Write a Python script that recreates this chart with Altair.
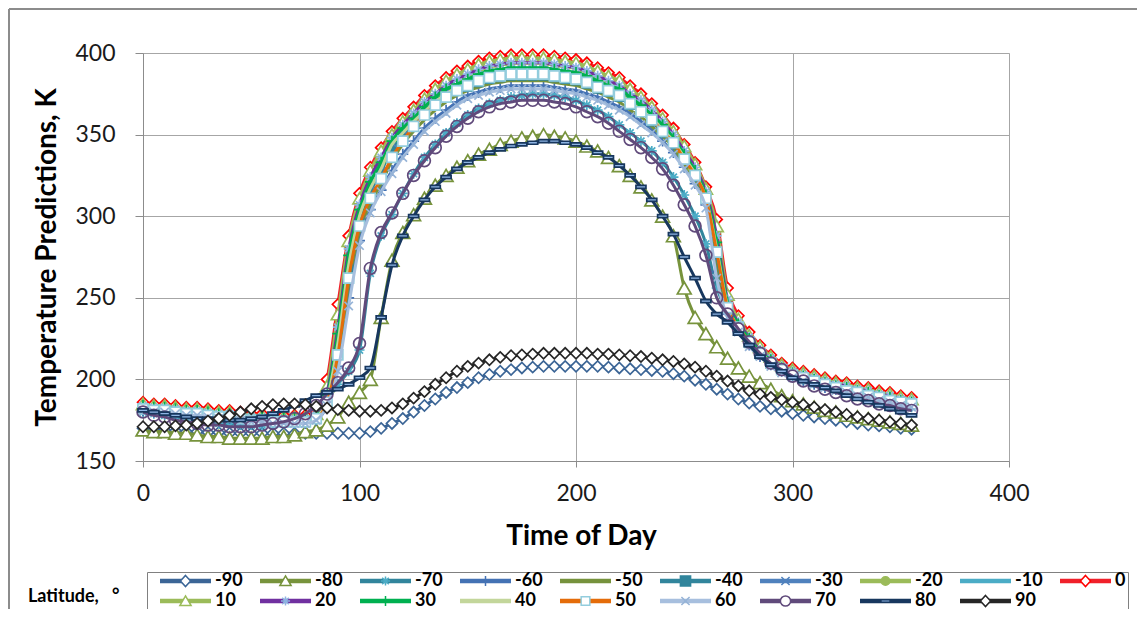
import altair as alt
import pandas as pd

FONT = "Lato"

# Time of day grid (degrees of local time), one value every 5
TIME = list(range(0, 360, 5))

LATS = ["-90", "-80", "-70", "-60", "-50", "-40", "-30", "-20", "-10", "0",
        "10", "20", "30", "40", "50", "60", "70", "80", "90"]

# Temperature predictions (K), one list per latitude
T_M90 = [170, 169.5, 169, 168.5, 168, 168, 167.5, 167.5, 167, 167, 167, 167, 167, 167, 167, 167, 167,
         167, 167, 167, 167, 168, 170,
         173, 176, 180, 184, 188, 192, 195, 198, 201, 203, 205, 206, 207, 207.5, 208, 208, 208, 208, 208, 208,
         207.5, 207, 206.5, 206, 205.5, 205, 203.5, 202, 199.5, 197, 194,
         191, 188, 185.5, 183.5, 182, 180.5, 179, 178, 177, 176, 175, 174, 173, 172, 171.5, 171, 170, 169.5]
T_M80 = [169, 168, 168, 167, 167, 166, 165, 165, 164, 164, 164, 164, 165, 165, 166, 168, 169,
         172, 177, 186, 192, 200, 238,
         273, 290, 301, 311, 319, 325, 330, 334, 338, 341, 344, 346, 348, 349, 350, 349, 348, 346, 343, 340,
         336, 331, 325, 318, 310, 300, 288, 256, 238, 228, 220,
         213, 207, 202, 198, 194, 190, 187, 185, 183, 181, 180, 178, 177, 176, 175, 174, 173, 172]
T_M70 = [180, 179, 178, 177, 176, 175, 174, 173, 173, 172, 172, 172, 172, 173, 174, 176, 179,
         187, 197, 205, 218, 265, 288,
         301, 314, 326, 336, 344, 351, 357, 362, 366, 369, 371, 373, 374, 375, 375, 374, 373, 371, 368, 365,
         361, 356, 351, 346, 340, 333, 324, 313, 300, 283, 256,
         242, 233, 224, 217, 211, 207, 203, 200, 198, 196, 194, 192, 190, 189, 187, 185, 184, 183]
T_M60 = [181, 180, 180, 179, 178, 178, 177, 176, 176, 175, 174, 174, 173, 173, 173, 173, 175,
         184, 208, 250, 285, 304, 316,
         328, 338, 346, 354, 360, 365, 370, 374, 376, 378, 379, 380, 380, 380, 380, 379, 378, 377, 375, 373,
         370, 367, 363, 358, 353, 346, 339, 330, 320, 307, 266,
         240, 230, 221, 214, 209, 205, 202, 199, 197, 195, 194, 192, 191, 189, 188, 186, 185, 184]
T_M50 = [182, 181, 181, 180, 179, 179, 178, 177, 177, 176, 175, 175, 174, 174, 174, 174, 176,
         185, 213, 258, 291, 308, 320,
         334, 344, 352, 359, 365, 370, 374, 377, 379, 381, 382, 383, 383, 383, 383, 382, 381, 380, 378, 376,
         373, 370, 365, 361, 355, 349, 342, 332, 322, 308, 272,
         241, 230, 221, 214, 209, 205, 202, 200, 198, 196, 194, 193, 191, 190, 188, 187, 185, 184]
T_M40 = [183, 182, 182, 181, 180, 180, 179, 178, 178, 177, 176, 176, 175, 175, 175, 175, 177,
         187, 220, 268, 298, 315, 327,
         342, 349, 356, 363, 368, 373, 377, 379, 382, 384, 385, 386, 386, 386, 386, 385, 384, 383, 381, 378,
         376, 373, 368, 364, 358, 351, 344, 335, 324, 310, 276,
         243, 231, 222, 215, 210, 206, 203, 200, 198, 196, 195, 193, 192, 190, 189, 187, 186, 185]
T_M30 = [183, 182, 182, 181, 180, 180, 179, 178, 178, 177, 176, 176, 175, 175, 175, 175, 177,
         189, 226, 274, 302, 319, 331,
         345, 353, 359, 366, 372, 377, 380, 383, 386, 388, 389, 390, 390, 390, 390, 389, 388, 387, 385, 382,
         380, 377, 372, 367, 361, 355, 347, 337, 327, 313, 282,
         246, 233, 224, 217, 211, 207, 204, 201, 199, 197, 196, 194, 193, 191, 190, 188, 187, 186]
T_M20 = [184, 183, 183, 182, 181, 181, 180, 179, 179, 178, 177, 177, 176, 176, 176, 176, 178,
         192, 233, 281, 308, 325, 337,
         349, 357, 364, 370, 376, 381, 385, 388, 391, 393, 394, 395, 395, 395, 395, 394, 393, 392, 390, 387,
         384, 381, 376, 371, 366, 359, 351, 341, 330, 316, 289,
         250, 236, 226, 219, 213, 208, 205, 203, 201, 199, 197, 196, 194, 193, 191, 190, 188, 187]
T_M10 = [185, 184, 184, 183, 182, 182, 181, 180, 180, 179, 178, 178, 177, 177, 177, 177, 179,
         195, 238, 283, 310, 327, 339,
         350, 358, 364, 371, 377, 382, 386, 389, 392, 394, 395, 396, 396, 396, 396, 395, 394, 393, 391, 388,
         385, 382, 377, 372, 366, 360, 352, 342, 331, 316, 292,
         251, 236, 227, 219, 213, 209, 206, 203, 201, 199, 198, 196, 195, 193, 192, 190, 189, 188]
T_0 = [186, 185, 185, 184, 183, 183, 182, 181, 181, 180, 179, 179, 178, 178, 178, 178, 180,
       200, 246, 288, 314, 330, 342,
       352, 360, 367, 374, 380, 385, 389, 392, 395, 397, 398, 399, 399, 399, 399, 398, 397, 396, 394, 391,
       388, 385, 380, 375, 369, 362, 354, 344, 333, 318, 298,
       256, 239, 229, 221, 215, 210, 207, 205, 203, 201, 199, 198, 196, 195, 193, 192, 190, 189]
T_P10 = [185, 184, 184, 183, 182, 182, 181, 180, 180, 179, 178, 178, 177, 177, 177, 177, 179,
         196, 240, 285, 311, 328, 340,
         350, 358, 365, 372, 378, 383, 387, 390, 393, 395, 396, 397, 397, 397, 397, 396, 395, 394, 392, 389,
         386, 383, 378, 373, 367, 360, 352, 343, 332, 317, 294,
         252, 237, 227, 220, 214, 209, 206, 204, 202, 200, 198, 197, 195, 194, 192, 191, 189, 188]
T_P20 = [184, 183, 183, 182, 181, 181, 180, 179, 179, 178, 177, 177, 176, 176, 176, 176, 178,
         192, 232, 280, 307, 324, 336,
         348, 356, 363, 370, 375, 380, 384, 387, 390, 392, 393, 394, 394, 394, 394, 393, 392, 391, 389, 386,
         383, 380, 375, 371, 365, 358, 350, 340, 330, 315, 288,
         249, 235, 226, 218, 213, 208, 205, 203, 201, 199, 197, 196, 194, 193, 191, 190, 188, 187]
T_P30 = [184, 183, 183, 182, 181, 181, 180, 179, 179, 178, 177, 177, 176, 176, 176, 176, 178,
         190, 228, 276, 304, 321, 333,
         346, 354, 360, 367, 373, 378, 381, 384, 387, 389, 390, 391, 391, 391, 391, 390, 389, 388, 386, 383,
         380, 378, 373, 368, 362, 356, 348, 338, 328, 313, 284,
         247, 234, 225, 217, 212, 207, 204, 202, 200, 198, 196, 195, 193, 192, 190, 189, 187, 186]
T_P40 = [183, 182, 182, 181, 180, 180, 179, 178, 178, 177, 176, 176, 175, 175, 175, 175, 177,
         188, 222, 270, 300, 317, 329,
         344, 351, 358, 364, 370, 375, 379, 381, 384, 386, 387, 388, 388, 388, 388, 387, 386, 385, 383, 380,
         378, 375, 370, 365, 360, 353, 346, 336, 326, 311, 280,
         245, 232, 223, 216, 211, 206, 203, 201, 199, 197, 195, 194, 192, 191, 189, 188, 186, 185]
T_P50 = [182, 181, 181, 180, 179, 179, 178, 177, 177, 176, 175, 175, 174, 174, 174, 174, 176,
         186, 215, 262, 294, 311, 323,
         336, 346, 355, 362, 368, 373, 377, 380, 383, 385, 386, 387, 387, 387, 387, 386, 385, 384, 382, 379,
         377, 374, 369, 364, 359, 352, 345, 335, 325, 311, 278,
         244, 232, 223, 216, 210, 206, 203, 201, 199, 197, 195, 193, 192, 190, 189, 187, 186, 185]
T_P60 = [181, 180, 180, 179, 178, 178, 177, 176, 176, 175, 174, 174, 173, 173, 173, 173, 175,
         184, 205, 245, 282, 302, 315,
         326, 336, 344, 352, 358, 363, 368, 372, 374, 376, 377, 378, 378, 378, 378, 377, 376, 375, 373, 371,
         368, 365, 361, 356, 351, 345, 338, 329, 319, 305, 262,
         238, 229, 220, 214, 208, 204, 201, 199, 197, 195, 193, 192, 190, 189, 187, 186, 184, 183]
T_P70 = [180, 178, 177, 175, 174, 173, 172, 172, 171, 171, 171, 172, 173, 174, 176, 179, 184,
         191, 198, 207, 222, 268, 290,
         302, 314, 325, 334, 342, 349, 355, 360, 364, 367, 369, 370, 371, 371, 371, 370, 369, 367, 364, 361,
         357, 352, 347, 342, 336, 329, 319, 307, 294, 276, 250,
         240, 231, 223, 216, 210, 206, 202, 199, 196, 194, 192, 190, 188, 187, 185, 184, 182, 181]
T_P80 = [181, 180, 179, 178, 177, 176, 176, 175, 175, 175, 176, 177, 179, 181, 184, 187, 190,
         192, 194, 197, 201, 207, 238,
         270, 288, 300, 310, 318, 324, 329, 333, 336, 339, 341, 343, 344, 345, 346, 346, 345, 344, 342, 339,
         336, 331, 325, 318, 310, 300, 289, 275, 262, 248, 240,
         235, 228, 221, 214, 209, 205, 201, 199, 197, 195, 193, 190, 188, 186, 184, 182, 180, 178]
T_P90 = [171, 171, 171, 171.5, 172, 173, 174.5, 176, 178, 180, 182, 183.5, 184.5, 185, 185, 184.5, 183.5,
         182.5, 181.5, 181, 180.5, 180.5, 181,
         182.5, 185, 188.5, 192.5, 197, 201, 205, 208, 210, 212, 213.5, 214.5, 215, 215.5, 216, 216, 216, 216,
         216, 215.5, 215.5, 215, 214.5, 214, 213, 212, 211, 209.5, 207.5, 205, 202,
         199, 196, 193, 191, 189, 187.5, 186, 184.5, 183, 181.5, 180, 178.5, 177, 176, 175, 174, 173, 172]

TEMPS = [T_M90, T_M80, T_M70, T_M60, T_M50, T_M40, T_M30, T_M20, T_M10, T_0,
         T_P10, T_P20, T_P30, T_P40, T_P50, T_P60, T_P70, T_P80, T_P90]

# Styles
LINE_COLORS = ["#3B6596", "#77933C", "#31859C", "#4472B4", "#76923C", "#31859C", "#4F81BD", "#9BBB59",
               "#4BACC6", "#F0202A", "#9BBB59", "#7030A0", "#00B050", "#C3D69B", "#E46C0A", "#A7BFDE",
               "#604A7B", "#17375E", "#262626"]

STAR = "M-1,0L1,0M0,-1L0,1M-0.7,-0.7L0.7,0.7M-0.7,0.7L0.7,-0.7"
PLUS = "M-1,0L1,0M0,-1L0,1"
XMARK = "M-0.8,-0.8L0.8,0.8M-0.8,0.8L0.8,-0.8"
DASH = "M-1,-0.3L1,-0.3L1,0.3L-1,0.3Z"

MARK_SHAPES = ["diamond", "triangle-up", STAR, PLUS, None, "square", XMARK, "circle", None, "diamond",
               "triangle-up", STAR, PLUS, None, "square", XMARK, "circle", DASH, "diamond"]
MARK_SIZES = [121, 190, 100, 120, 0, 64, 100, 64, 0, 121, 170, 100, 120, 0, 100, 110, 140, 100, 121]
MARK_STROKES = ["#3B6596", "#77933C", "#4BACC6", "#4472B4", "transparent", "#31859C", "#4F81BD", "#9BBB59",
                "transparent", "#FF0000", "#9BBB59", "#8DB4E2", "#00B050", "transparent", "#93CDDD",
                "#95B3D7", "#604A7B", "#17375E", "#262626"]
MARK_FILLS = ["#FFFFFF", "#FFFFFF", "transparent", "transparent", "transparent", "#31859C", "transparent",
              "#9BBB59", "transparent", "#FFFFFF", "#FFFFFF", "transparent", "transparent", "transparent",
              "#FFFFFF", "transparent", "transparent", "#8EB4E3", "#FFFFFF"]

# legend symbol paths (unit = half of the 51px legend line)
LEG_LINE = "M-1,-0.055L1,-0.055M-1,0L1,0M-1,0.055L1,0.055"
L_D = "M0,-0.22L0.2,0L0,0.22L-0.2,0Z"
L_T = "M0,-0.2L0.22,0.18L-0.22,0.18Z"
L_S = "M-0.18,0L0.18,0M0,-0.18L0,0.18M-0.13,-0.13L0.13,0.13M-0.13,0.13L0.13,-0.13"
L_P = "M-0.2,0L0.2,0M0,-0.2L0,0.2"
L_SQ = "M-0.2,-0.2L0.2,-0.2L0.2,0.2L-0.2,0.2Z"
L_SQO = "M-0.17,-0.17L0.17,-0.17L0.17,0.17L-0.17,0.17Z"
L_X = "M-0.16,-0.16L0.16,0.16M-0.16,0.16L0.16,-0.16"
L_C = "M-0.17,0A0.17,0.17,0,1,0,0.17,0A0.17,0.17,0,1,0,-0.17,0Z"
L_CO = "M-0.2,0A0.2,0.2,0,1,0,0.2,0A0.2,0.2,0,1,0,-0.2,0Z"
L_DASH = "M-0.18,-0.05L0.18,-0.05L0.18,0.05L-0.18,0.05Z"
L_NONE = "M0,0"
LEG_MARKS = [L_D, L_T, L_S, L_P, L_NONE, L_SQ, L_X, L_C, L_NONE, L_D,
             L_T, L_S, L_P, L_NONE, L_SQO, L_X, L_CO, L_DASH, L_D]
LEG_FILLS = ["#FFFFFF", "#FFFFFF", "transparent", "transparent", "transparent", "#31859C", "transparent",
             "#9BBB59", "transparent", "#FFFFFF", "#FFFFFF", "transparent", "transparent", "transparent",
             "#FFFFFF", "transparent", "#FFFFFF", "#8EB4E3", "#FFFFFF"]

rows = []
for lat, vals in zip(LATS, TEMPS):
    assert len(vals) == len(TIME), (lat, len(vals))
    for t, v in zip(TIME, vals):
        rows.append({"lat": lat, "time": t, "temp": v})
df = pd.DataFrame(rows)

x_enc = alt.X(
    "time:Q",
    scale=alt.Scale(domain=[0, 400], nice=False, zero=False),
    axis=alt.Axis(values=[0, 100, 200, 300, 400], title="Time of Day", grid=True,
                  gridColor="#A6A6A6", gridWidth=1, domainColor="#8C8C8C", tickColor="#8C8C8C",
                  tickSize=6, labelFont=FONT, labelFontSize=23, labelColor="#1A1A1A", labelPadding=15,
                  labelFlush=False, titleFont=FONT, titleFontSize=28, titleFontWeight="bold",
                  titleColor="#000000", titleX=438, titleY=83, titleBaseline="alphabetic",
                  titleAlign="center"),
)
y_enc = alt.Y(
    "temp:Q",
    scale=alt.Scale(domain=[150, 400], nice=False, zero=False),
    axis=alt.Axis(values=[150, 200, 250, 300, 350, 400], title="Temperature Predictions, K", grid=True,
                  gridColor="#A6A6A6", gridWidth=1, domainColor="#8C8C8C", tickColor="#8C8C8C",
                  tickSize=8, labelFont=FONT, labelFontSize=23, labelColor="#1A1A1A", labelPadding=20,
                  labelFlush=False, titleFont=FONT, titleFontSize=28, titleFontWeight="bold",
                  titleColor="#000000", titleX=-88, titleY=204, titleAngle=270,
                  titleBaseline="alphabetic", titleAlign="center"),
)

layers = []
for i, lat in enumerate(LATS):
    base = alt.Chart(df).transform_filter(alt.datum.lat == lat)
    layers.append(
        base.mark_line(color=LINE_COLORS[i], strokeWidth=3, interpolate="monotone",
                       strokeJoin="round").encode(x=x_enc, y=y_enc)
    )
    if MARK_SHAPES[i] is not None:
        layers.append(
            base.mark_point(shape=MARK_SHAPES[i], size=MARK_SIZES[i], stroke=MARK_STROKES[i],
                            fill=MARK_FILLS[i], strokeWidth=1.7, opacity=1, fillOpacity=1,
                            filled=True).encode(x=x_enc, y=y_enc)
        )

LEG_COMMON = dict(orient="none", legendX=4, legendY=519, columns=10, direction="horizontal",
                  title=None, padding=2, symbolOffset=10, symbolSize=2601, symbolStrokeWidth=1.5,
                  labelFont=FONT, labelFontSize=18, labelFontWeight="bold", labelColor="#000000",
                  labelOffset=3, columnPadding=6, rowPadding=2, clipHeight=14, gridAlign="all",
                  labelLimit=200)

leg1 = alt.Legend(strokeColor="#808080", **LEG_COMMON)
leg2 = alt.Legend(labelOpacity=0, **LEG_COMMON)

empty = alt.Chart(df).transform_filter("datum.time < 0")
legend_lines = empty.mark_point(opacity=1, filled=False).encode(
    x=x_enc, y=y_enc,
    shape=alt.Shape("lat:N", scale=alt.Scale(domain=LATS, range=[LEG_LINE] * len(LATS)), legend=leg1),
    stroke=alt.Stroke("lat:N", scale=alt.Scale(domain=LATS, range=LINE_COLORS), legend=leg1),
)
legend_marks = empty.mark_point(opacity=1, filled=True).encode(
    x=x_enc, y=y_enc,
    shape=alt.Shape("lat:N", scale=alt.Scale(domain=LATS, range=LEG_MARKS), legend=leg2),
    stroke=alt.Stroke("lat:N", scale=alt.Scale(domain=LATS, range=MARK_STROKES), legend=leg2),
    fill=alt.Fill("lat:N", scale=alt.Scale(domain=LATS, range=LEG_FILLS), legend=leg2),
)
layers.append(legend_lines)
layers.append(legend_marks)

one = alt.Data(values=[{"k": 1}])
legend_title = alt.Chart(one).mark_text(
    text="Latitude,\u00a0\u00a0\u00a0°", align="left", baseline="middle", font=FONT, fontSize=18,
    fontWeight="bold", color="#000000"
).encode(x=alt.value(-115), y=alt.value(544))
frame_top = alt.Chart(one).mark_rule(color="#8C8C8C", strokeWidth=2).encode(
    x=alt.value(-134), x2=alt.value(1010), y=alt.value(-44))
frame_left = alt.Chart(one).mark_rule(color="#8C8C8C", strokeWidth=2).encode(
    x=alt.value(-134), y=alt.value(-44), y2=alt.value(560))
layers += [legend_title, frame_top, frame_left]

chart = alt.layer(*layers).resolve_scale(
    shape="independent", stroke="independent", fill="independent"
).properties(
    width=866, height=408,
    autosize=alt.AutoSizeParams(type="none"),
    padding={"left": 135, "top": 45, "right": 128, "bottom": 148},
    background="#FFFFFF",
).configure_view(strokeWidth=0).configure(font=FONT)

chart.save("out.html", embed_options={"renderer": "svg", "actions": False})
